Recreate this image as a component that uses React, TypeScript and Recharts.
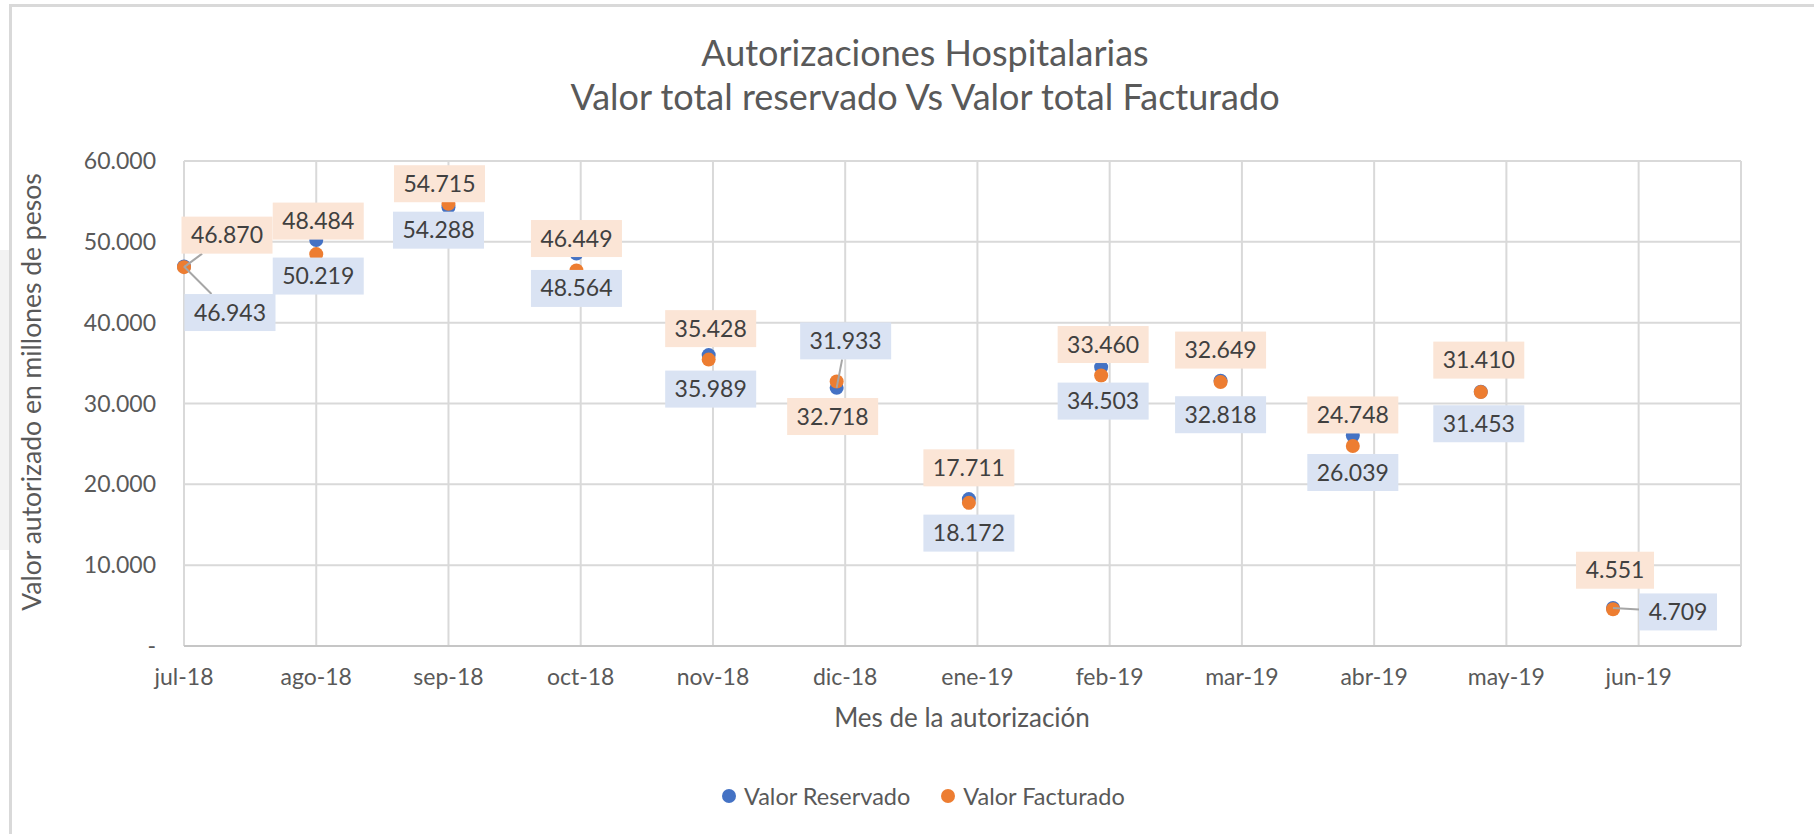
import { ScatterChart, Scatter, XAxis, YAxis, CartesianGrid } from "recharts";

const fechas = [
  "2018-07-01", "2018-08-01", "2018-09-01", "2018-10-01", "2018-11-01", "2018-12-01",
  "2019-01-01", "2019-02-01", "2019-03-01", "2019-04-01", "2019-05-01", "2019-06-01",
];
const meses = ["jul-18", "ago-18", "sep-18", "oct-18", "nov-18", "dic-18", "ene-19", "feb-19", "mar-19", "abr-19", "may-19", "jun-19"];
const valorReservado = [46943, 50219, 54288, 48564, 35989, 31933, 18172, 34503, 32818, 26039, 31453, 4709];
const valorFacturado = [46870, 48484, 54715, 46449, 35428, 32718, 17711, 33460, 32649, 24748, 31410, 4551];
const yTicks = [0, 10000, 20000, 30000, 40000, 50000, 60000];
// excel date axis: one tick every 31 days from jul-18
const xTicks = [0, 31, 62, 93, 124, 155, 186, 217, 248, 279, 310, 341];

// where each data label sits relative to its point: dx, dy, leader line
const ubicReservado = [[46, 46, 1], [2, 36, 0], [-10, 23, 0], [0, 35, 0], [2, 34, 0], [9, -47, 1], [0, 34, 0], [2, 34, 0], [0, 34, 0], [0, 37, 0], [-2, 32, 0], [65, 4, 1]];
const ubicFacturado = [[43, -32, 1], [2, -33, 0], [-9, -20, 0], [0, -32, 0], [2, -31, 0], [-4, 35, 0], [0, -35, 0], [2, -31, 0], [0, -32, 0], [0, -31, 0], [-2, -32, 0], [2, -39, 0]];

const AZUL = "#4472C4";
const NARANJA = "#ED7D31";
const GRIS = "#595959";
const FONT = "Lato, 'Open Sans', sans-serif";

const inicio = Date.parse(fechas[0]);
const dia = (f: string) => (Date.parse(f) - inicio) / 86400000;

const filasReservado = fechas.map((f, i) => ({ x: dia(f), y: valorReservado[i], i }));
const filasFacturado = fechas.map((f, i) => ({ x: dia(f), y: valorFacturado[i], i }));

const miles = (v: number) => {
  if (v === 0) return "-";
  return Math.floor(v / 1000) + "." + String(v % 1000).padStart(3, "0");
};

const Etiqueta = ({ cx, cy, texto, ubic, fondo }: any) => {
  const [dx, dy, lider] = ubic;
  const w = texto.length * 13 + 13;
  const h = 37;
  const bx = cx + dx;
  const by = cy + dy;
  let linea = null;
  if (lider) {
    const s = Math.min(w / 2 / Math.abs(dx || 1e-6), h / 2 / Math.abs(dy || 1e-6));
    const t = 1 - s;
    linea = <line x1={cx} y1={cy} x2={cx + dx * t} y2={cy + dy * t} stroke="#A6A6A6" strokeWidth={2} />;
  }
  return (
    <g>
      {linea}
      <rect x={bx - w / 2} y={by - h / 2} width={w} height={h} fill={fondo} />
      <text x={bx} y={by + 8} textAnchor="middle" fontSize={23} fill="#404040" fontFamily={FONT}>
        {texto}
      </text>
    </g>
  );
};

const tituloY = () => (
  <text
    x={31}
    y={392}
    transform="rotate(-90, 31, 392)"
    textAnchor="middle"
    dominantBaseline="central"
    fontSize={26.5}
    fill={GRIS}
    fontFamily={FONT}
  >
    Valor autorizado en millones de pesos
  </text>
);

const tituloX = () => (
  <text x={962} y={727} textAnchor="middle" fontSize={26} fill={GRIS} fontFamily={FONT}>
    Mes de la autorización
  </text>
);

export default function App() {
  return (
    <div style={{ position: "absolute", left: 0, top: 0, width: 1814, height: 834, background: "#fff", overflow: "hidden", fontFamily: FONT }}>
      <div style={{ position: "absolute", left: 0, top: 250, width: 9, height: 300, background: "#F3F3F3" }} />
      <div style={{ position: "absolute", left: 9, top: 4, right: -20, bottom: -20, borderTop: "3px solid #D9D9D9", borderLeft: "3px solid #D9D9D9" }} />
      <div style={{ position: "absolute", left: 0, width: 1850, top: 30, textAlign: "center", color: GRIS, fontSize: 36, lineHeight: "44px" }}>
        <div>Autorizaciones Hospitalarias</div>
        <div>Valor total reservado Vs Valor total Facturado</div>
      </div>
      <div style={{ position: "absolute", left: 0, top: 0 }}>
        <ScatterChart width={1814} height={834} margin={{ top: 161, right: 73, left: 0, bottom: 0 }}>
          <CartesianGrid stroke="#D9D9D9" strokeWidth={2} />
          <XAxis
            type="number"
            dataKey="x"
            domain={[0, 365]}
            ticks={xTicks}
            interval={0}
            height={188}
            tickLine={false}
            tickSize={0}
            tickMargin={23}
            axisLine={{ stroke: "#C6C6C6", strokeWidth: 2 }}
            tick={{ fill: GRIS, fontSize: 23, fontFamily: FONT }}
            tickFormatter={(v: number) => meses[xTicks.indexOf(v)]}
            label={tituloX}
          />
          <YAxis
            type="number"
            dataKey="y"
            domain={[0, 60000]}
            ticks={yTicks}
            interval={0}
            width={184}
            tickLine={false}
            axisLine={false}
            tickSize={0}
            tickMargin={28}
            tick={{ fill: GRIS, fontSize: 23, fontFamily: FONT }}
            tickFormatter={miles}
            label={tituloY}
          />
          <Scatter
            name="Valor Reservado"
            data={filasReservado}
            isAnimationActive={false}
            shape={(p: any) => <circle cx={p.cx} cy={p.cy} r={7} fill={AZUL} />}
          />
          <Scatter
            name="Valor Facturado"
            data={filasFacturado}
            isAnimationActive={false}
            shape={(p: any) => <circle cx={p.cx} cy={p.cy} r={7} fill={NARANJA} />}
          />
          <Scatter
            data={filasReservado}
            isAnimationActive={false}
            legendType="none"
            shape={(p: any) => (
              <Etiqueta cx={p.cx} cy={p.cy} texto={miles(p.payload.y)} ubic={ubicReservado[p.payload.i]} fondo="#DAE3F3" />
            )}
          />
          <Scatter
            data={filasFacturado}
            isAnimationActive={false}
            legendType="none"
            shape={(p: any) => (
              <Etiqueta cx={p.cx} cy={p.cy} texto={miles(p.payload.y)} ubic={ubicFacturado[p.payload.i]} fondo="#FBE5D6" />
            )}
          />
        </ScatterChart>
      </div>
      <div style={{ position: "absolute", left: 722, top: 781, display: "flex", alignItems: "center", color: GRIS, fontSize: 23.5, lineHeight: "30px" }}>
        <span style={{ width: 14, height: 14, borderRadius: 7, background: AZUL, marginRight: 8 }} />
        <span style={{ marginRight: 31 }}>Valor Reservado</span>
        <span style={{ width: 14, height: 14, borderRadius: 7, background: NARANJA, marginRight: 8 }} />
        <span>Valor Facturado</span>
      </div>
    </div>
  );
}
